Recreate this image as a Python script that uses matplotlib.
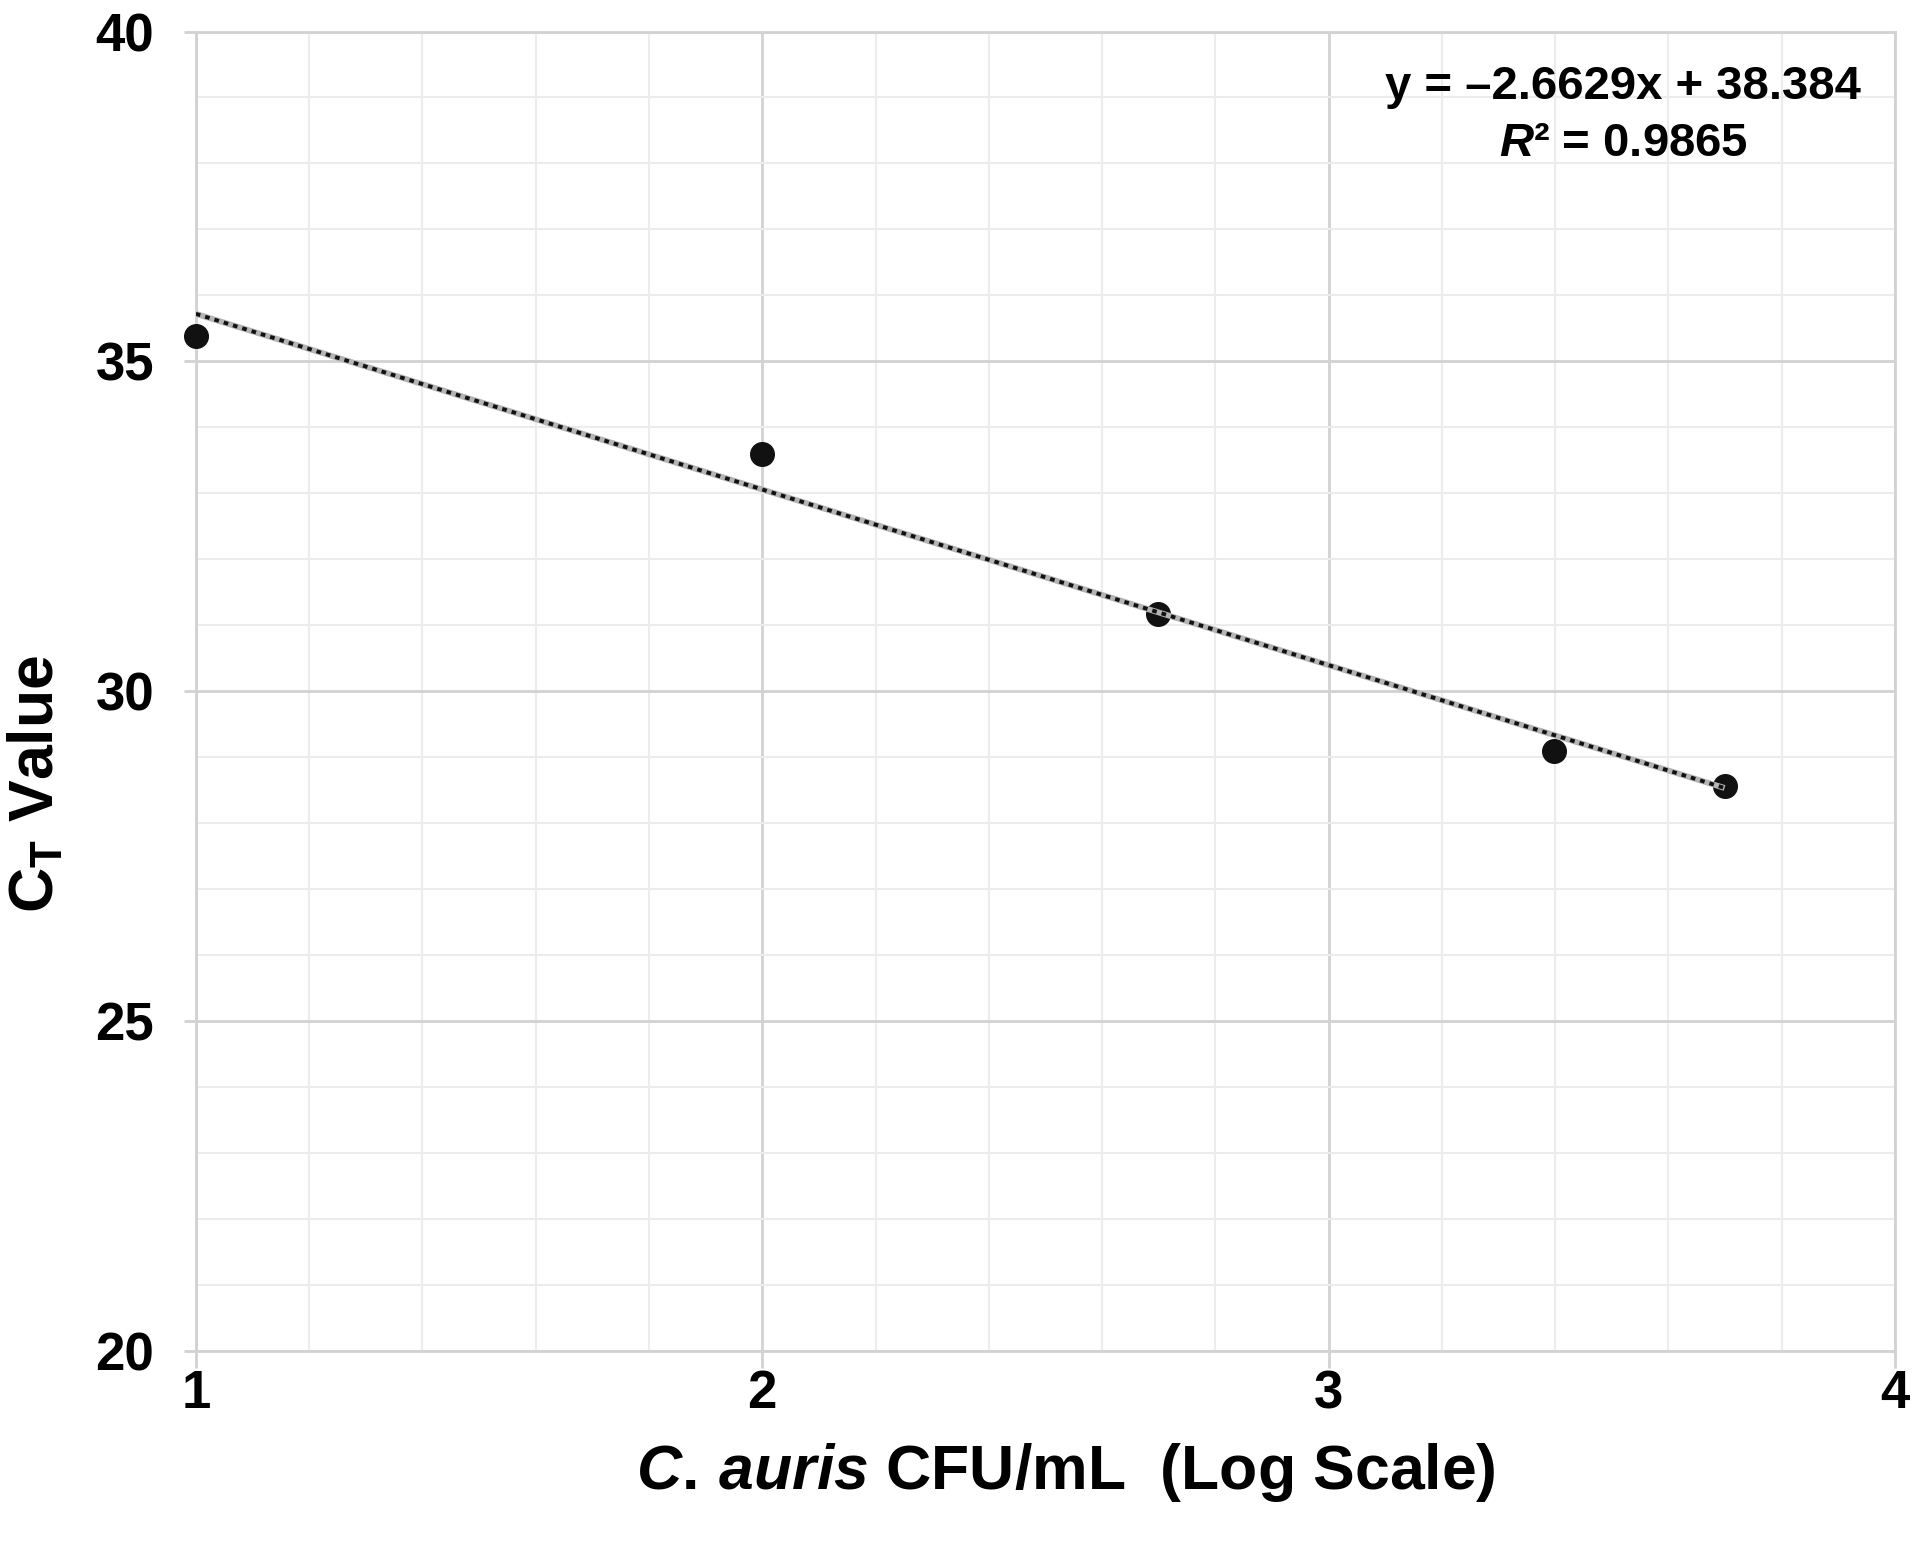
import matplotlib
matplotlib.use("Agg")
import matplotlib.pyplot as plt
from matplotlib.ticker import MultipleLocator
import numpy as np

# Data
log_cfu = [1.0, 2.0, 2.699, 3.398, 3.699]
ct_values = [35.39, 33.59, 31.17, 29.09, 28.57]
slope = -2.6629
intercept = 38.384
r_squared = 0.9865
x_ticks = [1, 2, 3, 4]
y_ticks = [20, 25, 30, 35, 40]

plt.rcParams['font.family'] = ['Liberation Sans', 'DejaVu Sans']
plt.rcParams['font.weight'] = 'bold'
plt.rcParams['mathtext.fontset'] = 'custom'
plt.rcParams['mathtext.rm'] = 'Liberation Sans:bold'
plt.rcParams['mathtext.bf'] = 'Liberation Sans:bold'
plt.rcParams['mathtext.it'] = 'Liberation Sans:italic:bold'

fig = plt.figure(figsize=(19.2, 15.45), dpi=100)
ax = fig.add_axes([0.102, 0.1256, 0.885, 0.854])

major_c = '#d2d2d2'
minor_c = '#ececec'

ax.set_xlim(1, 4)
ax.set_ylim(20, 40)
ax.set_xticks(x_ticks)
ax.set_yticks(y_ticks)
ax.xaxis.set_minor_locator(MultipleLocator(0.2))
ax.yaxis.set_minor_locator(MultipleLocator(1))
ax.grid(which='major', color=major_c, lw=2.0, zorder=0)
ax.grid(which='minor', color=minor_c, lw=1.5, zorder=0)
ax.set_axisbelow(True)
for s in ax.spines.values():
    s.set_color(major_c)
    s.set_linewidth(2.0)

ax.tick_params(axis='y', which='major', length=9, width=2, color=major_c,
               labelsize=38, pad=21)
ax.tick_params(axis='x', which='major', length=12, width=2, color=major_c,
               labelsize=38, pad=1)
ax.tick_params(which='minor', length=0)
for lab in ax.get_xticklabels() + ax.get_yticklabels():
    lab.set_fontweight('bold')

# Points
ax.plot(log_cfu, ct_values, 'o', color='#111111', ms=17, zorder=3, clip_on=False)

# Trend line
xs = np.array([min(log_cfu), max(log_cfu)])
ys = slope * xs + intercept
ax.plot(xs, ys, '-', color='#b4b4b4', lw=4.2, zorder=4, solid_capstyle='butt')
ax.plot(xs, ys, color='#111111', lw=2.8, ls=(0, (1.2, 1.3)), zorder=5,
        dash_capstyle='butt')

# Equation
ax.text(0.84, 0.958, f"y = \u2013{abs(slope):.4f}x + {intercept:.3f}",
        transform=ax.transAxes, ha='center', va='center', fontsize=34,
        fontweight='bold')
ax.text(0.84, 0.915, r"$\mathit{R}$" + f"\u00b2 = {r_squared:.4f}",
        transform=ax.transAxes, ha='center', va='center', fontsize=34,
        fontweight='bold')

ax.set_xlabel(r"$\mathit{C.\,auris}$ CFU/mL  (Log Scale)", fontsize=45,
              fontweight='bold')
ax.xaxis.set_label_coords(0.512, -0.068)
ax.set_ylabel(r"C$_\mathrm{T}$ Value", fontsize=45, fontweight='bold')
ax.yaxis.set_label_coords(-0.0765, 0.43)

fig.savefig('out.png', dpi=100, facecolor='white')
